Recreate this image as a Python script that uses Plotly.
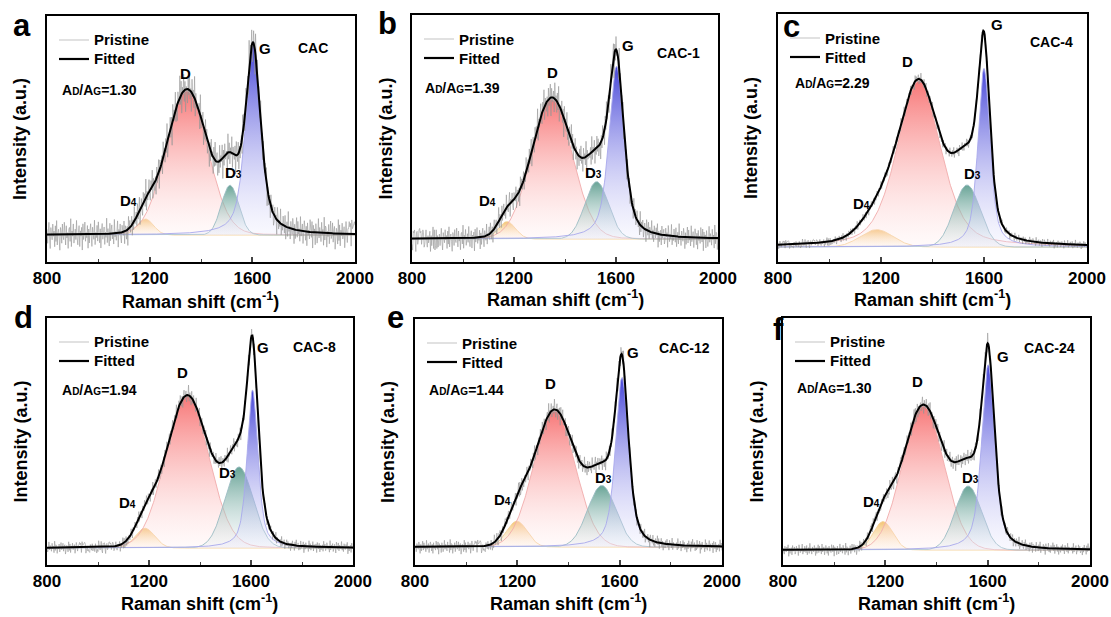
import numpy as np
import plotly.graph_objects as go

# ---------------- data ----------------
PANELS = ["a", "b", "c", "d", "e", "f"]
SAMPLES = ["CAC", "CAC-1", "CAC-4", "CAC-8", "CAC-12", "CAC-24"]
RATIOS = ["1.30", "1.39", "2.29", "1.94", "1.44", "1.30"]
PEAK_NAMES = ["D4", "D", "D3", "G"]
LEGEND_NAMES = ["Pristine", "Fitted"]
X_TICKS = [800, 1200, 1600, 2000]

# fitted peak parameters per panel, order: D4, D, D3, G
CENTER = {
    "a": [1183, 1345, 1513, 1603],
    "b": [1172, 1348, 1524, 1602],
    "c": [1183, 1347, 1534, 1600],
    "d": [1184, 1350, 1553, 1606],
    "e": [1198, 1345, 1530, 1609],
    "f": [1191, 1348, 1524, 1602],
}
HEIGHT = {
    "a": [0.065, 0.585, 0.202, 0.770],
    "b": [0.070, 0.565, 0.232, 0.700],
    "c": [0.070, 0.670, 0.250, 0.720],
    "d": [0.080, 0.615, 0.328, 0.640],
    "e": [0.105, 0.553, 0.250, 0.690],
    "f": [0.115, 0.582, 0.259, 0.750],
}
FWHM = {
    "a": [75, 190, 80, 70],
    "b": [80, 190, 110, 70],
    "c": [150, 200, 120, 55],
    "d": [90, 200, 130, 50],
    "e": [95, 190, 130, 60],
    "f": [90, 190, 120, 60],
}
LORENTZ_FRAC = {
    "a": [0.0, 0.05, 0.0, 0.6],
    "b": [0.0, 0.05, 0.0, 0.6],
    "c": [0.0, 0.4, 0.0, 0.6],
    "d": [0.0, 0.05, 0.0, 0.6],
    "e": [0.0, 0.0, 0.0, 0.6],
    "f": [0.0, 0.0, 0.0, 0.6],
}
NOISE_AMP = {"a": 0.085, "b": 0.07, "c": 0.025, "d": 0.035, "e": 0.04, "f": 0.035}

# hand-typed noise pattern of the measured (pristine) trace
NOISE = [
    3, -5, 1, 7, -2, -8, 4, 0, -3, 6, -1, 2, -7, 5, -4, 8, -6, 1, 3, -2,
    -9, 4, 2, -5, 6, -1, -3, 7, 0, -6, 5, -2, 1, -8, 3, 4, -4, 9, -7, 2,
    -1, 6, -5, 0, 3, -3, 8, -2, -6, 1, 5, -7, 2, -1, 4, -9, 6, -3, 0, 7,
    -4, 1, -2, 5, -8, 3, -5, 2, 6, -1, -7, 4, 0, -3, 8, -6, 1, -2, 5, -4,
    7, -1, -5, 3, -8, 2, 6, -3, 0, 4, -6, 1, -2, 9, -5, 3, -1, -7, 6, -4,
    2, 5, -3, 0, -6, 8, -2, 1, -4, 3, 7, -8, 2, -1, 5, -3, -6, 4, 0, -2,
    6, -7, 3, 1, -5, 2, -9, 7, -1, 4, -3, 0, 5, -6, 2, -4, 8, -2, -1, 3,
    -5, 6, -3, 1, 7, -8, 0, 4, -2, -6, 5, -1, 3, -4, 9, -7, 2, -3, 1, 6,
    -2, -5, 4, -1, 8, -6, 3, 0, -4, 2, -7, 5, -3, 1, 6, -8, 4, -2, 0, 3,
    -6, 7, -1, 2, -5, 4, -3, 8, -7, 1, 0, -2, 5, -4, 3, -9, 6, -1, 2, -3,
    7, -5, 1, -6, 4, 0, -2, 8, -3, 5, -7, 2, -1, 6, -4, 3, -8, 1, 0, -5,
    4, -2, 6, -3, 1, -7, 5, -1, 2, -4, 8, -6, 3, -2, 0,
]

# ---------------- layout geometry (pixels in a 1111x617 page) ----------------
W, H = 1111, 617
FRAME = {  # left, right, top, bottom, baseline
    "a": (47, 355, 16, 262, 235),
    "b": (412, 718, 15, 262, 239),
    "c": (778, 1087, 14, 262, 247),
    "d": (47, 353, 318, 565, 548),
    "e": (415, 722, 319, 565, 547),
    "f": (783, 1090, 318, 565, 550),
}
LETTER_POS = {"a": (22, 25), "b": (387, 24), "c": (791, 26),
              "d": (23, 317), "e": (395, 318), "f": (778, 330)}
XTITLE_GAP = {"a": 38, "b": 37, "c": 37, "d": 37, "e": 37, "f": 37}
# peak-label positions (x in cm-1, y in axis units)
LABEL_POS = {
    "a": [(1116, 0.142), (1338, 0.656), (1525, 0.255), (1649, 0.757)],
    "b": [(1098, 0.157), (1349, 0.673), (1510, 0.270), (1647, 0.782)],
    "c": [(1126, 0.176), (1301, 0.747), (1557, 0.298), (1650, 0.898)],
    "d": [(1114, 0.186), (1333, 0.709), (1506, 0.304), (1647, 0.810)],
    "e": [(1142, 0.195), (1328, 0.664), (1535, 0.283), (1652, 0.789)],
    "f": [(1145, 0.195), (1324, 0.682), (1531, 0.294), (1660, 0.784)],
}
SAMPLE_POS = {"a": (330, 48), "b": (702, 53), "c": (1075, 42),
              "d": (338, 347), "e": (712, 348), "f": (1077, 348)}
RATIO_POS = {"a": (60, 90), "b": (423, 88), "c": (793, 83),
             "d": (60, 390), "e": (427, 390), "f": (795, 388)}

FONT = "Arial, 'Liberation Sans', sans-serif"

COMP_STYLE = {
    "D4": dict(top="rgba(242,185,90,0.85)", bot="rgba(255,245,225,0.25)", line="rgb(245,208,150)"),
    "D": dict(top="rgba(246,96,96,0.85)", bot="rgba(255,236,236,0.25)", line="rgb(240,172,172)"),
    "D3": dict(top="rgba(78,148,132,0.85)", bot="rgba(228,236,240,0.25)", line="rgb(155,188,195)"),
    "G": dict(top="rgba(52,52,212,0.92)", bot="rgba(230,230,252,0.25)", line="rgb(168,168,236)"),
}
PRISTINE_COLOR = "rgba(150,150,150,0.85)"
PRISTINE_LEGEND_COLOR = "rgb(205,205,205)"


def pseudo_voigt(x, c, h, w, eta):
    g = np.exp(-4 * np.log(2) * ((x - c) / w) ** 2)
    lo = 1.0 / (1.0 + 4 * ((x - c) / w) ** 2)
    return h * (eta * lo + (1 - eta) * g)


x = np.arange(800, 2000.01, 2.5)
noise_full = np.array(NOISE + NOISE[::-1] + NOISE[::3], dtype=float) / 9.0

fig = go.Figure()
annotations = []
shapes = []
layout_axes = {}

for i, p in enumerate(PANELS):
    n = i + 1
    xa = "x" if n == 1 else f"x{n}"
    ya = "y" if n == 1 else f"y{n}"
    L, R, T, B, BL = FRAME[p]
    wpx = R - L
    hpx = B - T
    y0 = -(B - BL) / hpx
    y1 = (BL - T) / hpx

    comps = []
    for k, name in enumerate(PEAK_NAMES):
        comps.append(pseudo_voigt(x, CENTER[p][k], HEIGHT[p][k], FWHM[p][k], LORENTZ_FRAC[p][k]))
    fitted = np.sum(comps, axis=0)
    noise = np.roll(noise_full, i * 43)[: len(x)]
    pristine = fitted + NOISE_AMP[p] * noise * (0.75 + 0.6 * fitted / fitted.max())

    for k, name in enumerate(PEAK_NAMES):
        st = COMP_STYLE[name]
        fig.add_trace(go.Scatter(
            x=x, y=comps[k], mode="lines", xaxis=xa, yaxis=ya,
            line=dict(color=st["line"], width=0.9),
            fill="tozeroy",
            fillgradient=dict(type="vertical", colorscale=[[0, st["bot"]], [1, st["top"]]]),
            showlegend=False, hoverinfo="skip",
        ))
    fig.add_trace(go.Scatter(
        x=x, y=pristine, mode="lines", xaxis=xa, yaxis=ya, name=LEGEND_NAMES[0],
        line=dict(color=PRISTINE_COLOR, width=0.7), showlegend=False,
    ))
    fig.add_trace(go.Scatter(
        x=x, y=fitted, mode="lines", xaxis=xa, yaxis=ya, name=LEGEND_NAMES[1],
        line=dict(color="black", width=2), showlegend=False,
    ))

    layout_axes["xaxis" if n == 1 else f"xaxis{n}"] = dict(
        domain=[L / W, R / W], range=[800, 2000], anchor=ya, automargin=False,
        tickvals=X_TICKS, ticks="inside", ticklen=5, tickwidth=1.5,
        minor=dict(tick0=800, dtick=200, ticks="inside", ticklen=3, tickwidth=1.2),
        showline=True, mirror=True, linecolor="black", linewidth=1.6,
        showgrid=False, zeroline=False,
        tickfont=dict(family=FONT, size=17, color="black", weight="bold"),
    )
    layout_axes["yaxis" if n == 1 else f"yaxis{n}"] = dict(
        domain=[1 - B / H, 1 - T / H], range=[y0, y1], anchor=xa, automargin=False,
        showticklabels=False, ticks="", showline=True, mirror=True,
        linecolor="black", linewidth=1.6, showgrid=False, zeroline=False,
    )

    # hand-drawn legend (inside, top-left)
    leg_y = [T + 24, T + 43]
    leg_col = [PRISTINE_LEGEND_COLOR, "black"]
    leg_w = [1.2, 2.2]
    for j in range(2):
        yy = (B - leg_y[j]) / hpx
        shapes.append(dict(type="line", xref=f"{xa} domain", yref=f"{ya} domain",
                           x0=12 / wpx, x1=42 / wpx, y0=yy, y1=yy,
                           line=dict(color=leg_col[j], width=leg_w[j])))
        annotations.append(dict(text=LEGEND_NAMES[j], x=45 / wpx, y=yy,
                                xref=f"{xa} domain", yref=f"{ya} domain",
                                xanchor="left", yanchor="middle", showarrow=False,
                                font=dict(family=FONT, size=15, color="black", weight="bold")))

    # panel letter
    lx, ly = LETTER_POS[p]
    annotations.append(dict(text=p, x=lx / W, y=1 - ly / H, xref="paper", yref="paper",
                            xanchor="center", yanchor="middle", showarrow=False,
                            font=dict(family=FONT, size=31, color="black", weight="bold")))
    # sample name
    sx, sy = SAMPLE_POS[p]
    annotations.append(dict(text=SAMPLES[i], x=(sx - L) / wpx, y=(B - sy) / hpx,
                            xref=f"{xa} domain", yref=f"{ya} domain",
                            xanchor="right", yanchor="middle", showarrow=False,
                            font=dict(family=FONT, size=14, color="black", weight="bold")))
    # ratio
    rx, ry = RATIO_POS[p]
    annotations.append(dict(
        text=f"A<span style='font-size:10px'>D</span>/A<span style='font-size:10px'>G</span>={RATIOS[i]}",
        x=(rx - L) / wpx, y=(B - ry) / hpx,
        xref=f"{xa} domain", yref=f"{ya} domain",
        xanchor="left", yanchor="middle", showarrow=False,
        font=dict(family=FONT, size=14, color="black", weight="bold")))
    # peak labels
    for k, name in enumerate(PEAK_NAMES):
        if len(name) > 1:
            txt = f"D<span style='font-size:10px'>{name[1]}</span>"
        else:
            txt = name
        px_, py_ = LABEL_POS[p][k]
        annotations.append(dict(text=txt, x=px_, y=py_, xref=xa, yref=ya,
                                xanchor="center", yanchor="middle", showarrow=False,
                                font=dict(family=FONT, size=15, color="black", weight="bold")))
    # axis titles
    annotations.append(dict(text="Raman shift (cm<sup>-1</sup>)", x=0.5, y=-XTITLE_GAP[p] / hpx,
                            xref=f"{xa} domain", yref=f"{ya} domain",
                            xanchor="center", yanchor="middle", showarrow=False,
                            font=dict(family=FONT, size=18, color="black", weight="bold")))
    annotations.append(dict(text="Intensity (a.u.)", x=-27 / wpx, y=0.5,
                            xref=f"{xa} domain", yref=f"{ya} domain", textangle=-90,
                            xanchor="center", yanchor="middle", showarrow=False,
                            font=dict(family=FONT, size=18, color="black", weight="bold")))

fig.update_layout(
    template="none",
    width=W, height=H, margin=dict(l=0, r=0, t=0, b=0, autoexpand=False),
    paper_bgcolor="white", plot_bgcolor="white",
    font=dict(family=FONT, color="black"),
    showlegend=False,
    annotations=annotations,
    shapes=shapes,
    **layout_axes,
)

fig.write_html("out.html")
